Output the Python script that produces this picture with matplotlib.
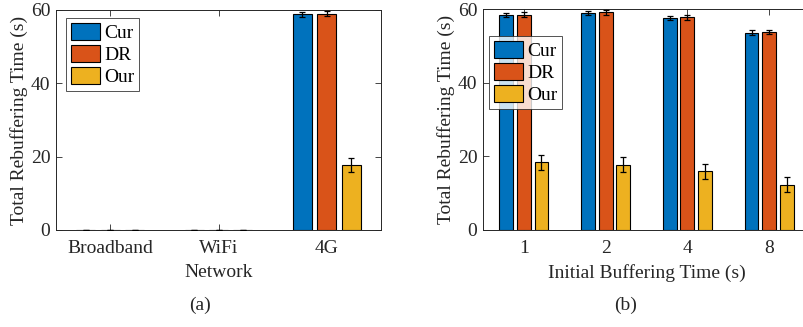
import numpy as np
import matplotlib
matplotlib.use("Agg")
import matplotlib.pyplot as plt

plt.rcParams['font.family'] = ['Liberation Serif', 'DejaVu Serif']
plt.rcParams['mathtext.fontset'] = 'stix'

# data
series = ['Cur', 'DR', 'Our']
colors = ['#0072BD', '#D95319', '#EDB120']

net_labels = ['Broadband', 'WiFi', '4G']
net_vals = {
    'Cur': [0.0, 0.0, 58.8],
    'DR': [0.0, 0.0, 59.0],
    'Our': [0.0, 0.0, 17.7],
}
net_err = {
    'Cur': [0.1, 0.1, 0.6],
    'DR': [0.1, 0.1, 0.6],
    'Our': [0.1, 0.1, 2.0],
}

buf_labels = ['1', '2', '4', '8']
buf_vals = {
    'Cur': [58.3, 58.9, 57.6, 53.6],
    'DR': [58.5, 59.1, 57.7, 53.7],
    'Our': [18.4, 17.7, 15.9, 12.3],
}
buf_err = {
    'Cur': [0.6, 0.6, 0.6, 0.6],
    'DR': [0.6, 0.6, 0.6, 0.6],
    'Our': [2.0, 2.0, 2.0, 2.0],
}

TXT = '#262626'
FS = 14

fig = plt.figure(figsize=(8.04, 3.27), dpi=100)
W, H = 804, 327


def draw(ax, labels, vals, errs, width, offset, xlabel, leg_loc):
    x = np.arange(1, len(labels) + 1)
    handles = []
    for i, s in enumerate(series):
        pos = x + (i - 1) * offset
        b = ax.bar(pos, vals[s], width, color=colors[i], edgecolor='black',
                   linewidth=0.8, label=s, zorder=2)
        ax.errorbar(pos, vals[s], yerr=errs[s], fmt='none', ecolor='black',
                    elinewidth=0.9, capsize=2.5, capthick=0.9, zorder=3)
        handles.append(b)
    ax.set_ylim(0, 60)
    ax.set_yticks([0, 20, 40, 60])
    ax.set_xlim(0.5, len(labels) + 0.5)
    ax.set_xticks(x)
    ax.set_xticklabels(labels)
    ax.tick_params(direction='in', top=True, right=True, labelsize=FS,
                   colors=TXT, length=4, width=0.6)
    ax.tick_params(axis='x', pad=7)
    ax.tick_params(axis='y', pad=4)
    for sp in ax.spines.values():
        sp.set_color(TXT)
        sp.set_linewidth(0.7)
    ax.set_ylabel('Total Rebuffering Time (s)', fontsize=FS, color=TXT, labelpad=2)
    ax.set_xlabel(xlabel, fontsize=FS, color=TXT, labelpad=5)
    leg = ax.legend(handles=handles, loc='upper left', bbox_to_anchor=leg_loc,
                    fontsize=FS, frameon=True, fancybox=False, edgecolor=TXT,
                    handlelength=1.5, handleheight=0.95, handletextpad=0.2,
                    borderpad=0.25, labelspacing=0.15, borderaxespad=0)
    leg.get_frame().set_linewidth(0.7)
    for t in leg.get_texts():
        t.set_color('black')
    return ax


ax1 = fig.add_axes([56 / W, 97 / H, 325 / W, 220 / H])
draw(ax1, net_labels, net_vals, net_err, 0.175, 0.225, 'Network',
     (10 / 325, 1 - 8 / 220))

ax2 = fig.add_axes([483 / W, 97 / H, 327 / W, 221 / H])
draw(ax2, buf_labels, buf_vals, buf_err, 0.17, 0.215, 'Initial Buffering Time (s)',
     (6 / 327, 1 - 27 / 221))

fig.text(200 / W, 1 - 305 / H, '(a)', ha='center', va='center', fontsize=FS, color=TXT)
fig.text(626 / W, 1 - 305 / H, '(b)', ha='center', va='center', fontsize=FS, color=TXT)

fig.savefig('out.png', dpi=100)
